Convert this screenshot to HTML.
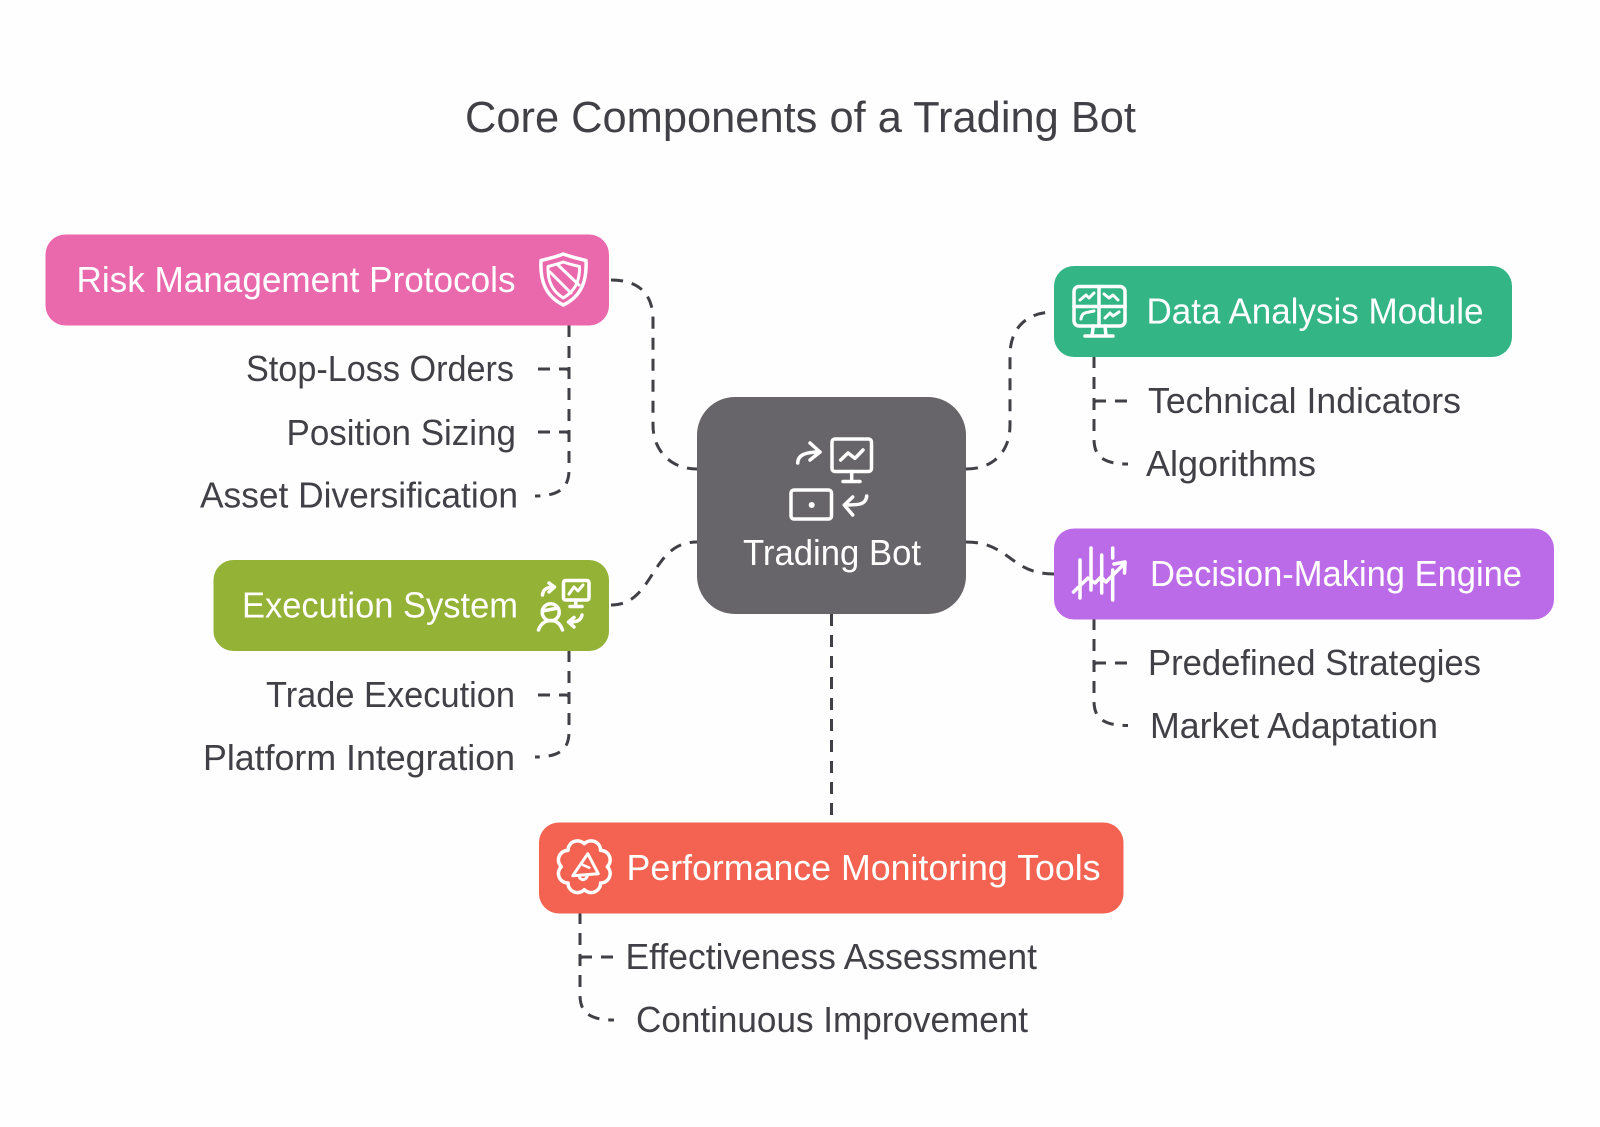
<!DOCTYPE html>
<html><head><meta charset="utf-8"><title>Core Components of a Trading Bot</title>
<style>
html,body{margin:0;padding:0;background:#fefefe}
svg{display:block}
text{font-family:"Liberation Sans",sans-serif;font-size:36px;fill:#404046}
.w{fill:#fff}
.d{fill:none;stroke:#404046;stroke-width:3;stroke-dasharray:12 9}
.i{fill:none;stroke:#fff;stroke-width:3.500;stroke-linecap:round;stroke-linejoin:round}
</style></head><body>
<svg width="1600" height="1127" viewBox="0 0 1600 1127" xmlns="http://www.w3.org/2000/svg">
<rect width="1600" height="1127" fill="#fefefe"/>
<text x="465" y="132" style="font-size:44px" textLength="671" lengthAdjust="spacingAndGlyphs">Core Components of a Trading Bot</text>

<!-- connectors -->
<path class="d" d="M611 280C640 280 653 295 653 320L653 425C653 450 670 469 697 469"/>
<path class="d" d="M611 605C655 605 650 542 697 542"/>
<path class="d" d="M966 469C995 469 1010 450 1010 425L1010 355C1010 330 1025 312 1054 312"/>
<path class="d" d="M966 542C1010 542 1010 574 1054 574"/>
<path class="d" d="M831.500 614V822"/>
<path class="d" d="M569 325V470C569 487 560 496 535 496"/>
<path class="d" d="M538 369H566Q569 369 569 372V379"/>
<path class="d" d="M538 432H566Q569 432 569 435V442"/>
<path class="d" d="M569 650V732C569 749 560 757 535 757"/>
<path class="d" d="M538 695H566Q569 695 569 698V705"/>
<path class="d" d="M1094 356V439C1094 456 1103 464 1128 464"/>
<path class="d" d="M1127 401H1097Q1094 401 1094 404V411"/>
<path class="d" d="M1094 618V701C1094 718 1103 725.500 1128 725.500"/>
<path class="d" d="M1127 663H1097Q1094 663 1094 666V673"/>
<path class="d" d="M580 912V995C580 1012 589 1020 614 1020"/>
<path class="d" d="M613 957H583Q580 957 580 960V967"/>

<!-- boxes -->
<rect x="45.500" y="234.500" width="563.500" height="91" rx="20" fill="#ea68ac"/>
<rect x="213.500" y="560" width="395.500" height="91" rx="20" fill="#93b236"/>
<rect x="1054" y="266" width="458" height="91" rx="20" fill="#33b585"/>
<rect x="1054" y="528.500" width="500" height="91" rx="20" fill="#bc6be8"/>
<rect x="539" y="822.500" width="584.500" height="91" rx="20" fill="#f46351"/>
<rect x="697" y="397" width="269" height="217" rx="38" fill="#676569"/>

<!-- box labels -->
<text class="w" x="76.500" y="292" textLength="439" lengthAdjust="spacingAndGlyphs">Risk Management Protocols</text>
<text class="w" x="242" y="617.500" textLength="276" lengthAdjust="spacingAndGlyphs">Execution System</text>
<text class="w" x="1146.500" y="323.500" textLength="337" lengthAdjust="spacingAndGlyphs">Data Analysis Module</text>
<text class="w" x="1150" y="586" textLength="372" lengthAdjust="spacingAndGlyphs">Decision-Making Engine</text>
<text class="w" x="626.500" y="880" textLength="474" lengthAdjust="spacingAndGlyphs">Performance Monitoring Tools</text>
<text class="w" x="743" y="565" textLength="178" lengthAdjust="spacingAndGlyphs">Trading Bot</text>

<!-- child labels -->
<text x="246" y="381" textLength="268" lengthAdjust="spacingAndGlyphs">Stop-Loss Orders</text>
<text x="286.500" y="445" textLength="229.500" lengthAdjust="spacingAndGlyphs">Position Sizing</text>
<text x="200" y="507.500" textLength="318" lengthAdjust="spacingAndGlyphs">Asset Diversification</text>
<text x="266" y="707" textLength="249" lengthAdjust="spacingAndGlyphs">Trade Execution</text>
<text x="203" y="770" textLength="312" lengthAdjust="spacingAndGlyphs">Platform Integration</text>
<text x="1148" y="413" textLength="313" lengthAdjust="spacingAndGlyphs">Technical Indicators</text>
<text x="1146" y="476" textLength="170" lengthAdjust="spacingAndGlyphs">Algorithms</text>
<text x="1148" y="675" textLength="333" lengthAdjust="spacingAndGlyphs">Predefined Strategies</text>
<text x="1150" y="738" textLength="288" lengthAdjust="spacingAndGlyphs">Market Adaptation</text>
<text x="625.500" y="969" textLength="411.500" lengthAdjust="spacingAndGlyphs">Effectiveness Assessment</text>
<text x="636" y="1032" textLength="392" lengthAdjust="spacingAndGlyphs">Continuous Improvement</text>

<!-- center icon -->
<g class="i">
<rect x="832" y="439" width="39.500" height="32.500" rx="3"/>
<path d="M851.700 471.500V481.500M843 481.500H860"/>
<path d="M840.700 460L848 453L855 458.300L863 450"/>
<path d="M797.700 463C798 455 805 452 820 452M810 443L820 452L810 460"/>
<rect x="791" y="490" width="40.500" height="29" rx="3"/>
<path d="M866.700 496C866 505 858 505 844.300 505M852.700 497L844.300 505L852.700 515"/>
</g>
<circle cx="811.700" cy="505" r="3" fill="#fff"/>

<!-- shield -->
<g class="i">
<path d="M563.300 254C571 257 580 259 586 260.500C587 280 582 296 563.300 305C545 296 540 280 541 260.500C547 259 556 257 563.300 254Z"/>
<path d="M563.300 262C569 264 575 265.500 579.500 266.500C580 281 575 291 563.300 298C552 291 547.500 281 548 266.500C552 265.500 558 264 563.300 262Z" stroke-width="3"/>
<path d="M550 272L571 293M558 265L579 285" stroke-width="3"/>
</g>

<!-- green icon -->
<g class="i">
<rect x="563.500" y="580.500" width="25.500" height="19.500" rx="2"/>
<path d="M575.700 600V606.500M570 606.500H582"/>
<path d="M569 594L574 587L578 591L583 585" stroke-width="3"/>
<path d="M542.500 595C543 589 547 587 554 587M549 583L554.500 587L549 592"/>
<circle cx="550.700" cy="612.300" r="8.500"/>
<path d="M542.500 611L558 608"/>
<path d="M538.500 630C541 623 546 620.500 551 620.500C556 620.500 560 623 562.500 630"/>
<path d="M582 615C581 621 576 622 569 622M574 617.500L568.500 622L574 627"/>
</g>

<!-- teal icon -->
<g class="i">
<rect x="1074" y="286.500" width="51" height="39.500" rx="5"/>
<path d="M1099 286.500V326M1074 306.500H1125"/>
<path d="M1093.300 326L1092 336M1105 326L1106 336M1085 336H1113"/>
<path d="M1080 300L1086 295L1089 298L1094 293" stroke-width="3"/>
<path d="M1104 294L1109 298L1113 295L1118 300" stroke-width="3"/>
<path d="M1081 319C1082 312 1086 313 1089 312L1094 311" stroke-width="3"/>
<path d="M1105 318L1110 313L1113 316L1119 312" stroke-width="3"/>
</g>

<!-- purple icon -->
<g class="i">
<path d="M1080 560V598M1091 548V590M1101.700 555V593M1112.700 548V558M1112.700 570V600"/>
<path d="M1073.500 592L1088 578L1095 583L1101 577L1106 582L1125 563"/>
<path d="M1114 564L1125 562L1124.500 573"/>
</g>

<!-- red icon -->
<g class="i" transform="translate(584.300 866.700)">
<path d="M23 0A9.500 9.500 0 0 1 16.300 16.300A9.500 9.500 0 0 1 0 23A9.500 9.500 0 0 1-16.300 16.300A9.500 9.500 0 0 1-23 0A9.500 9.500 0 0 1-16.300-16.300A9.500 9.500 0 0 1 0-23A9.500 9.500 0 0 1 16.300-16.300A9.500 9.500 0 0 1 23 0Z"/>
<path d="M-11.500 9L3.500-13L14 7Z" stroke-width="3"/>
<path d="M-2-2L5 1" stroke-width="2.500"/>
<path d="M-5 10C-4 14 2 14 3 9" stroke-width="3"/>
</g>
</svg>
</body></html>
